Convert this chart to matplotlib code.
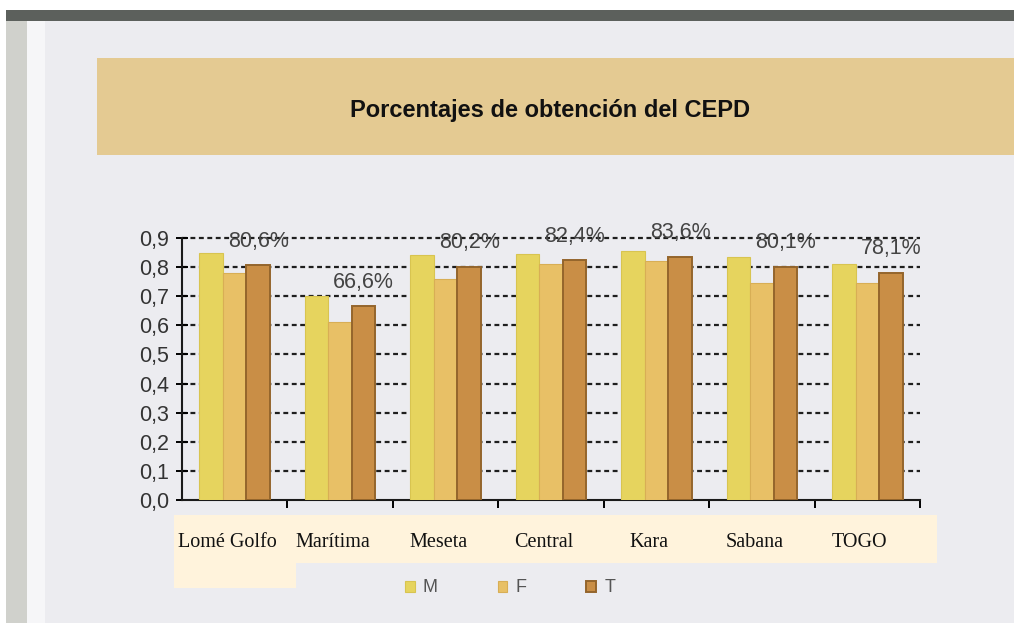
import matplotlib
matplotlib.use("Agg")
import matplotlib.pyplot as plt
from matplotlib.patches import Rectangle

# Datos (proporcion de obtencion del CEPD)
regiones = ["Lomé Golfo", "Marítima", "Meseta", "Central", "Kara", "Sabana", "TOGO"]
valores_m = [0.85, 0.70, 0.84, 0.845, 0.855, 0.835, 0.81]
valores_f = [0.78, 0.61, 0.76, 0.81, 0.82, 0.745, 0.745]
valores_t = [0.806, 0.666, 0.802, 0.824, 0.836, 0.801, 0.781]
etiquetas_t = ["80,6%", "66,6%", "80,2%", "82,4%", "83,6%", "80,1%", "78,1%"]
yticks = [0.0, 0.1, 0.2, 0.3, 0.4, 0.5, 0.6, 0.7, 0.8, 0.9]
series = ["M", "F", "T"]

W, H = 1014, 623
fig = plt.figure(figsize=(W / 100, H / 100), dpi=100)
fig.patch.set_facecolor("#ECECF0")


def px_rect(x0, y0, x1, y1, color):
    # rectangulo en pixeles de la figura (origen arriba a la izquierda)
    fig.patches.append(Rectangle((x0 / W, 1 - y1 / H), (x1 - x0) / W, (y1 - y0) / H,
                                 transform=fig.transFigure, facecolor=color,
                                 edgecolor="none", zorder=-1))


# bordes del escaneo
px_rect(0, 0, W, 10, "#FFFFFF")
px_rect(6, 10, W, 21, "#5C605C")
px_rect(0, 10, 6, H, "#FFFFFF")
px_rect(6, 21, 27, H, "#D0D1CC")
px_rect(27, 21, 45, H, "#F6F6F8")

# banda del titulo
px_rect(97, 58, W, 155, "#E4CA92")
fig.text(550 / W, 1 - 110 / H, "Porcentajes de obtención del CEPD",
         ha="center", va="center", fontsize=17, fontweight="bold",
         family="Liberation Sans", color="#111111")

# caja de etiquetas de categorias
px_rect(174, 515, 937, 563, "#FFF3DC")
px_rect(174, 560, 296, 588, "#FFF3DC")

ax = fig.add_axes([182 / W, (H - 500) / H, 738 / W, 262 / H])
ax.set_facecolor("none")

x = list(range(len(regiones)))
w = 0.223
c_m, c_f, c_t = "#E6D45E", "#E8C066", "#C98E46"
b_m = ax.bar([i - w for i in x], valores_m, w, color=c_m, edgecolor="#D8C450", lw=0.8, zorder=3, label="M")
b_f = ax.bar(x, valores_f, w, color=c_f, edgecolor="#D8AE55", lw=0.8, zorder=3, label="F")
b_t = ax.bar([i + w for i in x], valores_t, w, color=c_t, edgecolor="#94652C", lw=1.4, zorder=3, label="T")

for i, (v, t) in enumerate(zip(valores_t, etiquetas_t)):
    ax.text(i + w, v + 0.082, t, ha="center", va="center", fontsize=15.5,
            family="Liberation Sans", color="#444444", zorder=4, clip_on=False)

# lineas discontinuas
for yv in yticks[1:]:
    ax.axhline(yv, color="#1E1E1E", lw=1.6, ls=(0, (2.2, 1.6)), zorder=1, clip_on=False)

ax.set_xlim(-0.5, 6.5)
ax.set_ylim(0, 0.9)
ax.set_yticks(yticks)
ax.set_yticklabels([("%.1f" % v).replace(".", ",") for v in yticks],
                   fontsize=15.5, family="Liberation Sans", color="#333333")
ax.set_xticks([i + 0.5 for i in x])
ax.set_xticklabels([])
ax.tick_params(axis="y", direction="inout", length=9, width=1.4, pad=5)
ax.tick_params(axis="x", direction="out", length=6, width=1.4)
for s in ["top", "right"]:
    ax.spines[s].set_visible(False)
for s in ["left", "bottom"]:
    ax.spines[s].set_linewidth(1.5)
    ax.spines[s].set_color("#1A1A1A")

# etiquetas de regiones
for i, r in enumerate(regiones):
    ax.text(i - 0.07, -0.145, r, ha="center", va="center", fontsize=14.5,
            family="Liberation Serif", color="#111111", clip_on=False)

leg = fig.legend(handles=[b_m, b_f, b_t], labels=series, loc="center",
                 bbox_to_anchor=(510 / W, 1 - 588 / H), ncol=3, frameon=False,
                 fontsize=13, handlelength=0.55, handleheight=0.55,
                 handletextpad=0.45, columnspacing=3.3)
for t in leg.get_texts():
    t.set_color("#555555")
    t.set_family("Liberation Sans")

fig.savefig("out.png", dpi=100, facecolor=fig.get_facecolor())
